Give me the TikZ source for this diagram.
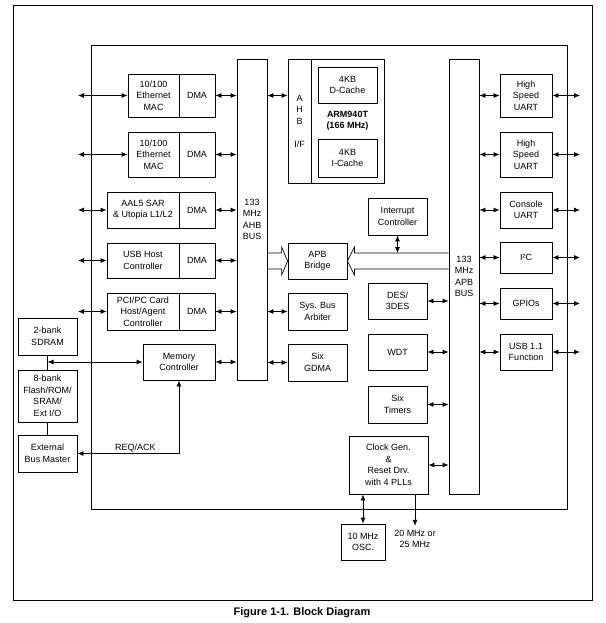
\documentclass[tikz,border=0pt]{standalone}
\usepackage{fontspec}
\setmainfont{Liberation Sans}
\usepackage{tikz}
\usetikzlibrary{arrows.meta}
\usetikzlibrary{calc}

\tikzset{
  blk/.style={draw, line width=0.8pt, align=center, inner sep=0pt,
    font=\fontsize{9}{11.5}\selectfont},
  dbl/.style={{Latex[length=6pt,width=5pt]}-{Latex[length=6pt,width=5pt]}, line width=0.8pt},
  arr/.style={-{Latex[length=6pt,width=5pt]}, line width=0.8pt},
  lbl/.style={align=center, inner sep=1pt, font=\fontsize{9}{11.5}\selectfont},
}

\begin{document}
\begin{tikzpicture}[x=1pt, y=-1pt]
    \useasboundingbox (0,0) rectangle (605,623);

    % frames
    \draw [line width=0.9pt] (13,5) rectangle (592,600);
    \draw [line width=0.9pt] (91,45) rectangle (567,509);

    % left column
    \node [blk, minimum width=51, minimum height=43] (eth1mac) at (153.5,95.5) {10/100\\Ethernet\\MAC};
    \node [blk, minimum width=36, minimum height=43] (eth1dma) at (197,95.5) {DMA};
    \node [blk, minimum width=51, minimum height=45] (eth2mac) at (153.5,154.5) {10/100\\Ethernet\\MAC};
    \node [blk, minimum width=36, minimum height=45] (eth2dma) at (197,154.5) {DMA};
    \node [blk, minimum width=72, minimum height=36] (aal) at (143,210) {AAL5 SAR\\\& Utopia L1/L2};
    \node [blk, minimum width=36, minimum height=36] (aaldma) at (197,210) {DMA};
    \node [blk, minimum width=72, minimum height=35] (usbh) at (143,260.5) {USB Host\\Controller};
    \node [blk, minimum width=36, minimum height=35] (usbhdma) at (197,260.5) {DMA};
    \node [blk, minimum width=72, minimum height=37] (pci) at (143,311.5) {PCI/PC Card\\Host/Agent\\Controller};
    \node [blk, minimum width=36, minimum height=37] (pcidma) at (197,311.5) {DMA};
    \node [blk, minimum width=72, minimum height=36] (memctrl) at (179,362) {Memory\\Controller};

    % external memory
    \node [blk, minimum width=59, minimum height=37] (sdram) at (47.5,336.5) {2-bank\\SDRAM};
    \node [blk, minimum width=59, minimum height=52] (flash) at (47.5,396) {8-bank\\Flash/ROM/\\SRAM/\\Ext I/O};
    \node [blk, minimum width=59, minimum height=37] (ebm) at (47.5,453.5) {External\\Bus Master};

    % buses
    \node [blk, minimum width=30, minimum height=321] (ahb) at (252,219.5) {133\\MHz\\AHB\\BUS};
    \node [blk, minimum width=30, minimum height=435] (apb) at (464,276.5) {133\\MHz\\APB\\BUS};

    % ARM core
    \node [blk, minimum width=23, minimum height=124] (ahbif) at (299.5,121) {A\\H\\B\\[11.5pt]I/F};
    \node [blk, minimum width=73, minimum height=124, font=\fontsize{9}{11.5}\selectfont\bfseries] (arm) at (347.5,121) {ARM940T\\(166 MHz)};
    \node [blk, minimum width=59, minimum height=36] (dcache) at (347.5,85) {4KB\\D-Cache};
    \node [blk, minimum width=59, minimum height=38] (icache) at (347.5,158) {4KB\\I-Cache};

    % middle blocks
    \node [blk, minimum width=59, minimum height=36] (bridge) at (317.5,261) {APB\\Bridge};
    \node [blk, minimum width=59, minimum height=37] (sysbus) at (317.5,311.5) {Sys. Bus\\Arbiter};
    \node [blk, minimum width=59, minimum height=37] (gdma) at (317.5,362.5) {Six\\GDMA};
    \node [blk, minimum width=59, minimum height=37] (intc) at (397.5,216.5) {Interrupt\\Controller};
    \node [blk, minimum width=59, minimum height=36] (des) at (397.5,301) {DES/\\3DES};
    \node [blk, minimum width=59, minimum height=36] (wdt) at (397.5,352) {WDT};
    \node [blk, minimum width=59, minimum height=37] (timers) at (397.5,404.5) {Six\\Timers};
    \node [blk, minimum width=79, minimum height=58] (clock) at (388.5,465) {Clock Gen.\\\&\\Reset Drv.\\with 4 PLLs};
    \node [blk, minimum width=44, minimum height=36] (osc) at (363,542) {10 MHz\\OSC.};
    \node [lbl] (f20) at (415,539) {20 MHz or\\25 MHz};

    % right column
    \node [blk, minimum width=52, minimum height=43] (uart1) at (526,95.5) {High\\Speed\\UART};
    \node [blk, minimum width=52, minimum height=45] (uart2) at (526,154.5) {High\\Speed\\UART};
    \node [blk, minimum width=52, minimum height=36] (cuart) at (526,210) {Console\\UART};
    \node [blk, minimum width=52, minimum height=31] (iic) at (526,257.5) {I²C};
    \node [blk, minimum width=52, minimum height=31] (gpio) at (526,303.5) {GPIOs};
    \node [blk, minimum width=52, minimum height=36] (usbf) at (526,352) {USB 1.1\\Function};

    \coordinate (xl) at (78,0);
    \coordinate (xr) at (580,0);

    % left side arrows
    \foreach \n/\d in {eth1mac/eth1dma, eth2mac/eth2dma, aal/aaldma, usbh/usbhdma, pci/pcidma} {
        \draw [dbl] (\n.west -| xl) -- (\n.west);
        \draw [dbl] (\d.east) -- (\d.east -| ahb.west);
    }
    \draw [dbl] (memctrl.east) -- (memctrl.east -| ahb.west);
    \draw [dbl] (ahb.east |- eth1dma.east) -- (ahbif.west |- eth1dma.east);
    \draw [dbl] (sysbus.west -| ahb.east) -- (sysbus.west);
    \draw [dbl] (gdma.west -| ahb.east) -- (gdma.west);

    % external memory
    \draw [line width=0.8pt] (sdram.south) -- (flash.north);
    \draw [line width=0.8pt] (flash.south) -- (ebm.north);
    \draw [dbl] (sdram.south |- memctrl.west) -- (memctrl.west);
    \draw [dbl] (ebm.east) -- node [lbl, above, pos=0.57] {REQ/ACK} (memctrl.south |- ebm.east) -- (memctrl.south);

    % APB bus arrows
    \foreach \n in {des, wdt, timers, clock} {
        \draw [dbl] (\n.east) -- (\n.east -| apb.west);
    }
    \foreach \n in {uart1, uart2, cuart, iic, gpio, usbf} {
        \draw [dbl] (\n.west -| apb.east) -- (\n.west);
        \draw [dbl] (\n.east) -- (\n.east -| xr);
    }

    % wide arrows to and from the bridge
    \draw [line width=0.7pt] let \p1=(bridge.west), \p2=(ahb.east) in
        (\x2,\y1+8) -- (\x1-6,\y1+8) -- (\x1-6,\y1+14) -- (\p1) -- (\x1-6,\y1-14) -- (\x1-6,\y1-8) -- (\x2,\y1-8);
    \draw [line width=0.7pt] let \p1=(bridge.east), \p2=(apb.west) in
        (\x2,\y1+8) -- (\x1+7,\y1+8) -- (\x1+7,\y1+14) -- (\p1) -- (\x1+7,\y1-14) -- (\x1+7,\y1-8) -- (\x2,\y1-8);
    \coordinate (shaft) at ($(bridge.center)+(0,-8)$);
    \draw [dbl] (intc.south) -- (intc.south |- shaft);

    % clocks
    \draw [dbl] (clock.south -| osc.north) -- (osc.north);
    \draw [arr] (clock.south -| f20.north) -- ($(f20.north)+(0,-3)$);

    \node [font=\fontsize{11}{13}\selectfont\bfseries] (cap) at (302,613) {Figure 1-1. Block Diagram};
\end{tikzpicture}
\end{document}
